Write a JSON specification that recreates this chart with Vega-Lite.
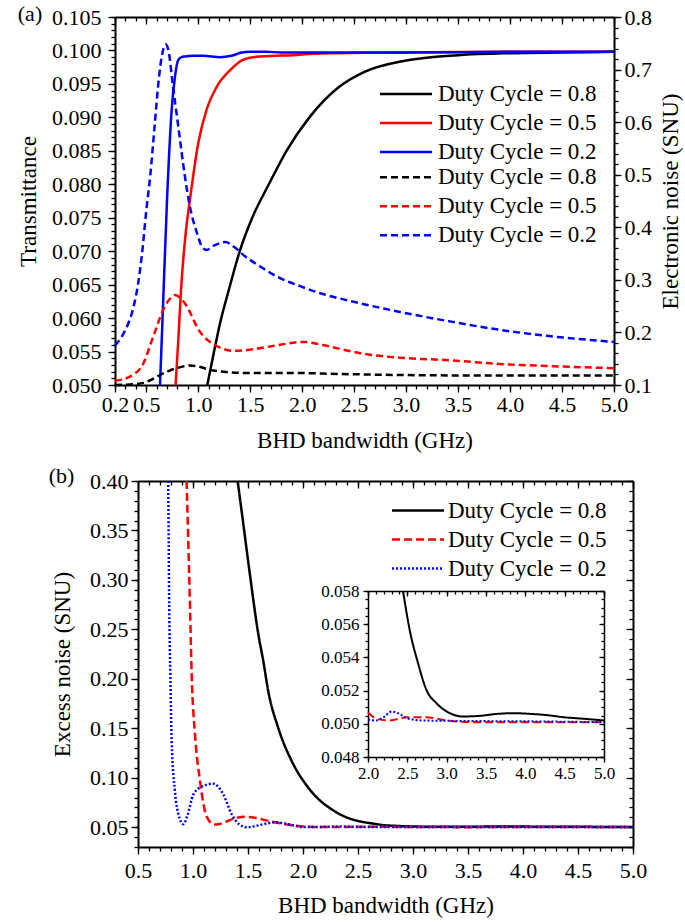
{
"$schema": "https://vega.github.io/schema/vega-lite/v6.json",
"width": 685, "height": 923, "autosize": "none", "padding": 0, "background": "white",
"config": {
 "view": {"stroke": null},
 "font": "Liberation Serif",
 "axis": {"grid": false, "domainColor": "#000", "domainWidth": 2, "tickColor": "#000", "tickWidth": 1.3, "labelColor": "#000", "labelFont": "Liberation Serif", "titleFont": "Liberation Serif", "titleFontWeight": "normal", "titleColor": "#000", "labelFlush": false, "labelOverlap": false, "labelBound": false},
 "legend": {"labelFont": "Liberation Serif", "labelColor": "#000"}
},
"datasets": {
 "trans": [
  {"dc":0.8,"x":1.088,"T":0.050},{"dc":0.8,"x":1.15,"T":0.0548},{"dc":0.8,"x":1.21,"T":0.0592},{"dc":0.8,"x":1.30,"T":0.0645},{"dc":0.8,"x":1.40,"T":0.0700},{"dc":0.8,"x":1.52,"T":0.0750},{"dc":0.8,"x":1.68,"T":0.0800},{"dc":0.8,"x":1.85,"T":0.0850},{"dc":0.8,"x":2.07,"T":0.0900},{"dc":0.8,"x":2.36,"T":0.0946},{"dc":0.8,"x":2.6,"T":0.0968},{"dc":0.8,"x":3.0,"T":0.0985},{"dc":0.8,"x":3.5,"T":0.0993},{"dc":0.8,"x":4.0,"T":0.0996},{"dc":0.8,"x":4.5,"T":0.0997},{"dc":0.8,"x":5.0,"T":0.0998},
  {"dc":0.5,"x":0.783,"T":0.050},{"dc":0.5,"x":0.81,"T":0.057},{"dc":0.5,"x":0.835,"T":0.0642},{"dc":0.5,"x":0.88,"T":0.0727},{"dc":0.5,"x":0.921,"T":0.0777},{"dc":0.5,"x":1.0,"T":0.0861},{"dc":0.5,"x":1.08,"T":0.0911},{"dc":0.5,"x":1.18,"T":0.0946},{"dc":0.5,"x":1.31,"T":0.0971},{"dc":0.5,"x":1.43,"T":0.0986},{"dc":0.5,"x":1.59,"T":0.0991},{"dc":0.5,"x":1.75,"T":0.0992},{"dc":0.5,"x":1.91,"T":0.0993},{"dc":0.5,"x":2.1,"T":0.0995},{"dc":0.5,"x":2.36,"T":0.0996},{"dc":0.5,"x":3.0,"T":0.0997},{"dc":0.5,"x":4.0,"T":0.0998},{"dc":0.5,"x":5.0,"T":0.0998},
  {"dc":0.2,"x":0.633,"T":0.050},{"dc":0.2,"x":0.658,"T":0.0602},{"dc":0.2,"x":0.70,"T":0.0775},{"dc":0.2,"x":0.745,"T":0.0911},{"dc":0.2,"x":0.777,"T":0.0961},{"dc":0.2,"x":0.809,"T":0.0986},{"dc":0.2,"x":0.84,"T":0.0990},{"dc":0.2,"x":0.873,"T":0.0991},{"dc":0.2,"x":0.95,"T":0.0992},{"dc":0.2,"x":1.05,"T":0.0992},{"dc":0.2,"x":1.21,"T":0.0990},{"dc":0.2,"x":1.32,"T":0.0992},{"dc":0.2,"x":1.42,"T":0.0997},{"dc":0.2,"x":1.5,"T":0.0998},{"dc":0.2,"x":1.65,"T":0.0998},{"dc":0.2,"x":1.8,"T":0.0997},{"dc":0.2,"x":2.0,"T":0.0997},{"dc":0.2,"x":3.0,"T":0.0997},{"dc":0.2,"x":4.0,"T":0.0998},{"dc":0.2,"x":5.0,"T":0.0998}
 ],
 "enoise": [
  {"dc":0.8,"x":0.2,"N":0.100},{"dc":0.8,"x":0.344,"N":0.101},{"dc":0.8,"x":0.472,"N":0.104},{"dc":0.8,"x":0.55,"N":0.110},{"dc":0.8,"x":0.633,"N":0.119},{"dc":0.8,"x":0.72,"N":0.127},{"dc":0.8,"x":0.793,"N":0.132},{"dc":0.8,"x":0.921,"N":0.137},{"dc":0.8,"x":1.0,"N":0.135},{"dc":0.8,"x":1.113,"N":0.129},{"dc":0.8,"x":1.25,"N":0.125},{"dc":0.8,"x":1.434,"N":0.123},{"dc":0.8,"x":1.9,"N":0.123},{"dc":0.8,"x":2.363,"N":0.121},{"dc":0.8,"x":2.94,"N":0.119},{"dc":0.8,"x":3.9,"N":0.118},{"dc":0.8,"x":5.0,"N":0.118},
  {"dc":0.5,"x":0.2,"N":0.108},{"dc":0.5,"x":0.344,"N":0.116},{"dc":0.5,"x":0.472,"N":0.141},{"dc":0.5,"x":0.568,"N":0.192},{"dc":0.5,"x":0.664,"N":0.243},{"dc":0.5,"x":0.72,"N":0.262},{"dc":0.5,"x":0.777,"N":0.271},{"dc":0.5,"x":0.83,"N":0.265},{"dc":0.5,"x":0.873,"N":0.255},{"dc":0.5,"x":0.93,"N":0.235},{"dc":0.5,"x":0.986,"N":0.211},{"dc":0.5,"x":1.05,"N":0.193},{"dc":0.5,"x":1.113,"N":0.182},{"dc":0.5,"x":1.2,"N":0.172},{"dc":0.5,"x":1.337,"N":0.165},{"dc":0.5,"x":1.45,"N":0.166},{"dc":0.5,"x":1.594,"N":0.170},{"dc":0.5,"x":1.8,"N":0.177},{"dc":0.5,"x":2.01,"N":0.182},{"dc":0.5,"x":2.2,"N":0.176},{"dc":0.5,"x":2.4,"N":0.167},{"dc":0.5,"x":2.6,"N":0.159},{"dc":0.5,"x":2.94,"N":0.152},{"dc":0.5,"x":3.42,"N":0.147},{"dc":0.5,"x":3.9,"N":0.140},{"dc":0.5,"x":4.38,"N":0.136},{"dc":0.5,"x":5.0,"N":0.132},
  {"dc":0.2,"x":0.2,"N":0.175},{"dc":0.2,"x":0.3,"N":0.205},{"dc":0.2,"x":0.36,"N":0.235},{"dc":0.2,"x":0.42,"N":0.29},{"dc":0.2,"x":0.46,"N":0.35},{"dc":0.2,"x":0.50,"N":0.43},{"dc":0.2,"x":0.54,"N":0.50},{"dc":0.2,"x":0.58,"N":0.59},{"dc":0.2,"x":0.62,"N":0.68},{"dc":0.2,"x":0.65,"N":0.725},{"dc":0.2,"x":0.687,"N":0.748},{"dc":0.2,"x":0.72,"N":0.73},{"dc":0.2,"x":0.75,"N":0.68},{"dc":0.2,"x":0.81,"N":0.59},{"dc":0.2,"x":0.87,"N":0.50},{"dc":0.2,"x":0.92,"N":0.44},{"dc":0.2,"x":0.99,"N":0.388},{"dc":0.2,"x":1.04,"N":0.362},{"dc":0.2,"x":1.08,"N":0.357},{"dc":0.2,"x":1.16,"N":0.366},{"dc":0.2,"x":1.26,"N":0.372},{"dc":0.2,"x":1.35,"N":0.362},{"dc":0.2,"x":1.43,"N":0.348},{"dc":0.2,"x":1.6,"N":0.325},{"dc":0.2,"x":1.76,"N":0.306},{"dc":0.2,"x":1.98,"N":0.288},{"dc":0.2,"x":2.2,"N":0.273},{"dc":0.2,"x":2.46,"N":0.260},{"dc":0.2,"x":2.94,"N":0.239},{"dc":0.2,"x":3.42,"N":0.221},{"dc":0.2,"x":3.9,"N":0.205},{"dc":0.2,"x":4.38,"N":0.193},{"dc":0.2,"x":5.0,"N":0.182}
 ],
 "excess": [
  {"dc":0.8,"x":1.406,"E":0.40},{"dc":0.8,"x":1.458,"E":0.356},{"dc":0.8,"x":1.518,"E":0.305},{"dc":0.8,"x":1.594,"E":0.245},{"dc":0.8,"x":1.639,"E":0.218},{"dc":0.8,"x":1.685,"E":0.187},{"dc":0.8,"x":1.776,"E":0.150},{"dc":0.8,"x":1.897,"E":0.117},{"dc":0.8,"x":2.048,"E":0.090},{"dc":0.8,"x":2.29,"E":0.066},{"dc":0.8,"x":2.445,"E":0.058},{"dc":0.8,"x":2.53,"E":0.05565},{"dc":0.8,"x":2.636,"E":0.05365},{"dc":0.8,"x":2.743,"E":0.05204},{"dc":0.8,"x":2.87,"E":0.05124},{"dc":0.8,"x":3.04,"E":0.05064},{"dc":0.8,"x":3.21,"E":0.05044},{"dc":0.8,"x":3.42,"E":0.05048},{"dc":0.8,"x":3.65,"E":0.0506},{"dc":0.8,"x":3.845,"E":0.05064},{"dc":0.8,"x":4.06,"E":0.0506},{"dc":0.8,"x":4.28,"E":0.05052},{"dc":0.8,"x":4.48,"E":0.0504},{"dc":0.8,"x":4.75,"E":0.0503},{"dc":0.8,"x":5.0,"E":0.0502},
  {"dc":0.5,"x":0.942,"E":0.40},{"dc":0.5,"x":0.957,"E":0.339},{"dc":0.5,"x":0.973,"E":0.272},{"dc":0.5,"x":0.988,"E":0.204},{"dc":0.5,"x":1.018,"E":0.144},{"dc":0.5,"x":1.064,"E":0.0965},{"dc":0.5,"x":1.109,"E":0.066},{"dc":0.5,"x":1.15,"E":0.056},{"dc":0.5,"x":1.185,"E":0.0527},{"dc":0.5,"x":1.23,"E":0.053},{"dc":0.5,"x":1.29,"E":0.055},{"dc":0.5,"x":1.38,"E":0.059},{"dc":0.5,"x":1.473,"E":0.0605},{"dc":0.5,"x":1.55,"E":0.0598},{"dc":0.5,"x":1.624,"E":0.058},{"dc":0.5,"x":1.72,"E":0.0555},{"dc":0.5,"x":1.806,"E":0.0537},{"dc":0.5,"x":1.9,"E":0.052},{"dc":0.5,"x":2.0,"E":0.05068},{"dc":0.5,"x":2.11,"E":0.0503},{"dc":0.5,"x":2.28,"E":0.0502},{"dc":0.5,"x":2.49,"E":0.0504},{"dc":0.5,"x":2.74,"E":0.0504},{"dc":0.5,"x":3.0,"E":0.0502},{"dc":0.5,"x":3.42,"E":0.05009},{"dc":0.5,"x":4.0,"E":0.0501},{"dc":0.5,"x":5.0,"E":0.0501},
  {"dc":0.2,"x":0.775,"E":0.40},{"dc":0.2,"x":0.784,"E":0.272},{"dc":0.2,"x":0.794,"E":0.204},{"dc":0.2,"x":0.806,"E":0.137},{"dc":0.2,"x":0.836,"E":0.086},{"dc":0.2,"x":0.87,"E":0.062},{"dc":0.2,"x":0.912,"E":0.053},{"dc":0.2,"x":0.95,"E":0.062},{"dc":0.2,"x":1.003,"E":0.083},{"dc":0.2,"x":1.079,"E":0.091},{"dc":0.2,"x":1.185,"E":0.094},{"dc":0.2,"x":1.276,"E":0.083},{"dc":0.2,"x":1.352,"E":0.063},{"dc":0.2,"x":1.42,"E":0.053},{"dc":0.2,"x":1.488,"E":0.050},{"dc":0.2,"x":1.56,"E":0.051},{"dc":0.2,"x":1.624,"E":0.0526},{"dc":0.2,"x":1.75,"E":0.055},{"dc":0.2,"x":1.87,"E":0.053},{"dc":0.2,"x":2.0,"E":0.05024},{"dc":0.2,"x":2.1,"E":0.0502},{"dc":0.2,"x":2.2,"E":0.0504},{"dc":0.2,"x":2.30,"E":0.05074},{"dc":0.2,"x":2.4,"E":0.0506},{"dc":0.2,"x":2.49,"E":0.05034},{"dc":0.2,"x":2.7,"E":0.0502},{"dc":0.2,"x":3.0,"E":0.05018},{"dc":0.2,"x":4.0,"E":0.05015},{"dc":0.2,"x":5.0,"E":0.0501}
 ]
},
"layer": [
 {"data": {"name": "trans"},
  "mark": {"type": "line", "interpolate": "monotone", "strokeWidth": 2.5},
  "encoding": {
   "x": {"field": "x", "type": "quantitative", "scale": {"domain": [0.2, 5], "range": [115, 614], "nice": false, "zero": false},
    "axis": {"orient": "bottom", "offset": -538, "values": [0.2,0.5,1,1.5,2,2.5,3,3.5,4,4.5,5], "format": ".1f", "tickSize": 7, "labelFontSize": 22, "labelPadding": 2, "title": "BHD bandwidth (GHz)", "titleFontSize": 23, "titleX": 364.5, "titleY": 55, "titleAlign": "center", "titleBaseline": "middle"}},
   "y": {"field": "T", "type": "quantitative", "scale": {"domain": [0.05, 0.105], "range": [385, 17], "nice": false, "zero": false},
    "axis": {"orient": "left", "offset": -115, "values": [0.05,0.055,0.06,0.065,0.07,0.075,0.08,0.085,0.09,0.095,0.1,0.105], "format": ".3f", "tickSize": 7, "labelFontSize": 22, "labelPadding": 7, "title": "Transmittance", "titleFontSize": 23, "titleX": -87, "titleY": 201, "titleAngle": -90, "titleAlign": "center", "titleBaseline": "middle"}},
   "color": {"field": "dc", "type": "nominal", "scale": {"domain": [0.8, 0.5, 0.2], "range": ["#000000", "#ff0000", "#0000ff"]},
    "legend": {"orient": "none", "legendX": 394.5, "legendY": 82.5, "direction": "vertical", "title": null, "symbolType": "M-2.6,0H2.6", "symbolSize": 400, "symbolStrokeWidth": 2.5, "labelFontSize": 23, "labelExpr": "'Duty Cycle = ' + datum.label", "labelOffset": 20.5, "labelLimit": 300, "padding": 0, "rowPadding": 5}}
  }},
 {"data": {"name": "enoise"},
  "mark": {"type": "line", "interpolate": "monotone", "strokeWidth": 2.5, "strokeDash": [7, 4]},
  "encoding": {
   "x": {"field": "x", "type": "quantitative", "scale": {"domain": [0.2, 5], "range": [115, 614], "nice": false, "zero": false},
    "axis": {"orient": "top", "offset": -17, "values": [0.2,0.5,1,1.5,2,2.5,3,3.5,4,4.5,5], "tickSize": -7, "labels": false, "title": null}},
   "y": {"field": "N", "type": "quantitative", "scale": {"domain": [0.1, 0.8], "range": [385, 17], "nice": false, "zero": false},
    "axis": {"orient": "right", "offset": -71, "values": [0.1,0.2,0.3,0.4,0.5,0.6,0.7,0.8], "format": ".1f", "tickSize": 7, "labelFontSize": 22, "labelPadding": 3, "title": "Electronic noise (SNU)", "titleFontSize": 23, "titleX": 56, "titleY": 201, "titleAngle": -90, "titleAlign": "center", "titleBaseline": "middle"}},
   "color": {"field": "dc", "type": "nominal", "scale": {"domain": [0.8, 0.5, 0.2], "range": ["#000000", "#ff0000", "#0000ff"]},
    "legend": {"orient": "none", "legendX": 394.5, "legendY": 165.8, "direction": "vertical", "title": null, "symbolType": "M-2.6,0H2.6", "symbolSize": 400, "symbolStrokeWidth": 2.5, "symbolDash": [7, 4], "labelFontSize": 23, "labelExpr": "'Duty Cycle = ' + datum.label", "labelOffset": 20.5, "labelLimit": 300, "padding": 0, "rowPadding": 5}}
  }},
 {"data": {"name": "trans"},
  "mark": {"type": "line", "opacity": 0},
  "encoding": {
   "x": {"field": "x", "type": "quantitative", "scale": {"domain": [0.2, 5], "range": [115, 614], "nice": false, "zero": false},
    "axis": {"orient": "bottom", "offset": -538, "values": [0.2,0.3,0.4,0.5,0.6,0.7,0.8,0.9,1,1.1,1.2,1.3,1.4,1.5,1.6,1.7,1.8,1.9,2,2.1,2.2,2.3,2.4,2.5,2.6,2.7,2.8,2.9,3,3.1,3.2,3.3,3.4,3.5,3.6,3.7,3.8,3.9,4,4.1,4.2,4.3,4.4,4.5,4.6,4.7,4.8,4.9,5], "tickSize": 4, "labels": false, "domain": false, "title": null}},
   "y": {"field": "T", "type": "quantitative", "scale": {"domain": [0.05, 0.105], "range": [385, 17], "nice": false, "zero": false},
    "axis": {"orient": "left", "offset": -115, "values": [0.05,0.051,0.052,0.053,0.054,0.055,0.056,0.057,0.058,0.059,0.06,0.061,0.062,0.063,0.064,0.065,0.066,0.067,0.068,0.069,0.07,0.071,0.072,0.073,0.074,0.075,0.076,0.077,0.078,0.079,0.08,0.081,0.082,0.083,0.084,0.085,0.086,0.087,0.088,0.089,0.09,0.091,0.092,0.093,0.094,0.095,0.096,0.097,0.098,0.099,0.1,0.101,0.102,0.103,0.104,0.105], "tickSize": 4, "labels": false, "domain": false, "title": "(a)", "titleFontSize": 22, "titleX": -85.5, "titleY": 13, "titleAngle": 0, "titleAlign": "center", "titleBaseline": "middle"}}
  }},
 {"data": {"name": "enoise"},
  "mark": {"type": "line", "opacity": 0},
  "encoding": {
   "x": {"field": "x", "type": "quantitative", "scale": {"domain": [0.2, 5], "range": [115, 614], "nice": false, "zero": false},
    "axis": {"orient": "top", "offset": -17, "values": [0.2,0.3,0.4,0.5,0.6,0.7,0.8,0.9,1,1.1,1.2,1.3,1.4,1.5,1.6,1.7,1.8,1.9,2,2.1,2.2,2.3,2.4,2.5,2.6,2.7,2.8,2.9,3,3.1,3.2,3.3,3.4,3.5,3.6,3.7,3.8,3.9,4,4.1,4.2,4.3,4.4,4.5,4.6,4.7,4.8,4.9,5], "tickSize": -4, "labels": false, "domain": false, "title": null}},
   "y": {"field": "N", "type": "quantitative", "scale": {"domain": [0.1, 0.8], "range": [385, 17], "nice": false, "zero": false},
    "axis": {"orient": "right", "offset": -71, "values": [0.1,0.12,0.14,0.16,0.18,0.2,0.22,0.24,0.26,0.28,0.3,0.32,0.34,0.36,0.38,0.4,0.42,0.44,0.46,0.48,0.5,0.52,0.54,0.56,0.58,0.6,0.62,0.64,0.66,0.68,0.7,0.72,0.74,0.76,0.78,0.8], "tickSize": 4, "labels": false, "domain": false, "title": null}}
  }},
 {"data": {"name": "excess"},
  "mark": {"type": "line", "interpolate": "monotone", "strokeWidth": 2.5},
  "encoding": {
   "x": {"field": "x", "type": "quantitative", "scale": {"domain": [0.5, 5], "range": [138, 633], "nice": false, "zero": false},
    "axis": {"orient": "bottom", "offset": -76, "values": [0.5,1,1.5,2,2.5,3,3.5,4,4.5,5], "format": ".1f", "tickSize": 7, "labelFontSize": 22, "labelPadding": 6, "title": "BHD bandwidth (GHz)", "titleFontSize": 23, "titleX": 385.5, "titleY": 58, "titleAlign": "center", "titleBaseline": "middle"}},
   "y": {"field": "E", "type": "quantitative", "scale": {"domain": [0.03, 0.4], "range": [847, 481], "nice": false, "zero": false},
    "axis": {"orient": "left", "offset": -138, "values": [0.05,0.1,0.15,0.2,0.25,0.3,0.35,0.4], "format": ".2f", "tickSize": 7, "labelFontSize": 22, "labelPadding": 3, "title": "Excess noise (SNU)", "titleFontSize": 23, "titleX": -76, "titleY": 664, "titleAngle": -90, "titleAlign": "center", "titleBaseline": "middle"}},
   "color": {"field": "dc", "type": "nominal", "scale": {"domain": [0.8, 0.5, 0.2], "range": ["#000000", "#ff0000", "#0000ff"]},
    "legend": {"orient": "none", "legendX": 406.5, "legendY": 499, "direction": "vertical", "title": null, "symbolType": "M-2.6,0H2.6", "symbolSize": 400, "symbolStrokeWidth": 2.5, "labelFontSize": 23, "labelExpr": "'Duty Cycle = ' + datum.label", "labelOffset": 18.5, "labelLimit": 300, "padding": 0, "rowPadding": 5}},
   "strokeDash": {"field": "dc", "type": "nominal", "scale": {"domain": [0.8, 0.5, 0.2], "range": [[1, 0], [8, 4], [2, 2]]}}
  }},
 {"data": {"name": "excess"},
  "mark": {"type": "line", "opacity": 0},
  "encoding": {
   "x": {"field": "x", "type": "quantitative", "scale": {"domain": [0.5, 5], "range": [138, 633], "nice": false, "zero": false},
    "axis": {"orient": "bottom", "offset": -76, "values": [0.5,0.6,0.7,0.8,0.9,1,1.1,1.2,1.3,1.4,1.5,1.6,1.7,1.8,1.9,2,2.1,2.2,2.3,2.4,2.5,2.6,2.7,2.8,2.9,3,3.1,3.2,3.3,3.4,3.5,3.6,3.7,3.8,3.9,4,4.1,4.2,4.3,4.4,4.5,4.6,4.7,4.8,4.9,5], "tickSize": 4, "labels": false, "domain": false, "title": null}},
   "y": {"field": "E", "type": "quantitative", "scale": {"domain": [0.03, 0.4], "range": [847, 481], "nice": false, "zero": false},
    "axis": {"orient": "left", "offset": -138, "values": [0.03,0.04,0.05,0.06,0.07,0.08,0.09,0.1,0.11,0.12,0.13,0.14,0.15,0.16,0.17,0.18,0.19,0.2,0.21,0.22,0.23,0.24,0.25,0.26,0.27,0.28,0.29,0.3,0.31,0.32,0.33,0.34,0.35,0.36,0.37,0.38,0.39,0.4], "tickSize": 4, "labels": false, "domain": false, "title": "(b)", "titleFontSize": 22, "titleX": -77, "titleY": 475, "titleAngle": 0, "titleAlign": "center", "titleBaseline": "middle"}}
  }},
 {"data": {"name": "excess"},
  "mark": {"type": "line", "opacity": 0},
  "encoding": {
   "x": {"field": "x", "type": "quantitative", "scale": {"domain": [0.5, 5], "range": [138, 633], "nice": false, "zero": false},
    "axis": {"orient": "top", "offset": -481, "values": [0.5,1,1.5,2,2.5,3,3.5,4,4.5,5], "tickSize": -7, "labels": false, "title": null}},
   "y": {"field": "E", "type": "quantitative", "scale": {"domain": [0.03, 0.4], "range": [847, 481], "nice": false, "zero": false},
    "axis": {"orient": "right", "offset": -52, "values": [0.05,0.1,0.15,0.2,0.25,0.3,0.35,0.4], "tickSize": -7, "labels": false, "title": null}}
  }},
 {"data": {"name": "excess"},
  "mark": {"type": "line", "opacity": 0},
  "encoding": {
   "x": {"field": "x", "type": "quantitative", "scale": {"domain": [0.5, 5], "range": [138, 633], "nice": false, "zero": false},
    "axis": {"orient": "top", "offset": -481, "values": [0.5,0.6,0.7,0.8,0.9,1,1.1,1.2,1.3,1.4,1.5,1.6,1.7,1.8,1.9,2,2.1,2.2,2.3,2.4,2.5,2.6,2.7,2.8,2.9,3,3.1,3.2,3.3,3.4,3.5,3.6,3.7,3.8,3.9,4,4.1,4.2,4.3,4.4,4.5,4.6,4.7,4.8,4.9,5], "tickSize": -4, "labels": false, "domain": false, "title": null}},
   "y": {"field": "E", "type": "quantitative", "scale": {"domain": [0.03, 0.4], "range": [847, 481], "nice": false, "zero": false},
    "axis": {"orient": "right", "offset": -52, "values": [0.03,0.04,0.05,0.06,0.07,0.08,0.09,0.1,0.11,0.12,0.13,0.14,0.15,0.16,0.17,0.18,0.19,0.2,0.21,0.22,0.23,0.24,0.25,0.26,0.27,0.28,0.29,0.3,0.31,0.32,0.33,0.34,0.35,0.36,0.37,0.38,0.39,0.4], "tickSize": -4, "labels": false, "domain": false, "title": null}}
  }},
 {"data": {"name": "excess"},
  "transform": [{"filter": "datum.x >= 2 && datum.E <= 0.0581"}],
  "mark": {"type": "line", "interpolate": "monotone", "strokeWidth": 2},
  "encoding": {
   "x": {"field": "x", "type": "quantitative", "scale": {"domain": [2, 5], "range": [368, 604], "nice": false, "zero": false},
    "axis": {"orient": "bottom", "offset": -166, "values": [2,2.5,3,3.5,4,4.5,5], "format": ".1f", "tickSize": 5, "labelFontSize": 17, "labelPadding": 3, "domainWidth": 1.5, "title": null}},
   "y": {"field": "E", "type": "quantitative", "scale": {"domain": [0.048, 0.058], "range": [757, 591], "nice": false, "zero": false},
    "axis": {"orient": "left", "offset": -368, "values": [0.048,0.05,0.052,0.054,0.056,0.058], "format": ".3f", "tickSize": 5, "labelFontSize": 17, "labelPadding": 4, "domainWidth": 1.5, "title": null}},
   "color": {"field": "dc", "type": "nominal", "scale": {"domain": [0.8, 0.5, 0.2], "range": ["#000000", "#ff0000", "#0000ff"]}, "legend": null},
   "strokeDash": {"field": "dc", "type": "nominal", "scale": {"domain": [0.8, 0.5, 0.2], "range": [[1, 0], [8, 4], [2, 2]]}, "legend": null}
  }},
 {"data": {"name": "excess"},
  "mark": {"type": "line", "opacity": 0},
  "encoding": {
   "x": {"field": "x", "type": "quantitative", "scale": {"domain": [2, 5], "range": [368, 604], "nice": false, "zero": false},
    "axis": {"orient": "bottom", "offset": -166, "values": [2,2.1,2.2,2.3,2.4,2.5,2.6,2.7,2.8,2.9,3,3.1,3.2,3.3,3.4,3.5,3.6,3.7,3.8,3.9,4,4.1,4.2,4.3,4.4,4.5,4.6,4.7,4.8,4.9,5], "tickSize": 3, "labels": false, "domain": false, "title": null}},
   "y": {"field": "E", "type": "quantitative", "scale": {"domain": [0.048, 0.058], "range": [757, 591], "nice": false, "zero": false},
    "axis": {"orient": "left", "offset": -368, "values": [0.048,0.0485,0.049,0.0495,0.05,0.0505,0.051,0.0515,0.052,0.0525,0.053,0.0535,0.054,0.0545,0.055,0.0555,0.056,0.0565,0.057,0.0575,0.058], "tickSize": 3, "labels": false, "domain": false, "title": null}}
  }},
 {"data": {"name": "excess"},
  "mark": {"type": "line", "opacity": 0},
  "encoding": {
   "x": {"field": "x", "type": "quantitative", "scale": {"domain": [2, 5], "range": [368, 604], "nice": false, "zero": false},
    "axis": {"orient": "top", "offset": -591, "values": [2,2.5,3,3.5,4,4.5,5], "tickSize": -5, "labels": false, "domainWidth": 1.5, "title": null}},
   "y": {"field": "E", "type": "quantitative", "scale": {"domain": [0.048, 0.058], "range": [757, 591], "nice": false, "zero": false},
    "axis": {"orient": "right", "offset": -81, "values": [0.048,0.05,0.052,0.054,0.056,0.058], "tickSize": -5, "labels": false, "domainWidth": 1.5, "title": null}}
  }},
 {"data": {"name": "excess"},
  "mark": {"type": "line", "opacity": 0},
  "encoding": {
   "x": {"field": "x", "type": "quantitative", "scale": {"domain": [2, 5], "range": [368, 604], "nice": false, "zero": false},
    "axis": {"orient": "top", "offset": -591, "values": [2,2.1,2.2,2.3,2.4,2.5,2.6,2.7,2.8,2.9,3,3.1,3.2,3.3,3.4,3.5,3.6,3.7,3.8,3.9,4,4.1,4.2,4.3,4.4,4.5,4.6,4.7,4.8,4.9,5], "tickSize": -3, "labels": false, "domain": false, "title": null}},
   "y": {"field": "E", "type": "quantitative", "scale": {"domain": [0.048, 0.058], "range": [757, 591], "nice": false, "zero": false},
    "axis": {"orient": "right", "offset": -81, "values": [0.048,0.0485,0.049,0.0495,0.05,0.0505,0.051,0.0515,0.052,0.0525,0.053,0.0535,0.054,0.0545,0.055,0.0555,0.056,0.0565,0.057,0.0575,0.058], "tickSize": -3, "labels": false, "domain": false, "title": null}}
  }}
],
"resolve": {"scale": {"x": "independent", "y": "independent", "color": "independent", "strokeDash": "independent"}}
}
